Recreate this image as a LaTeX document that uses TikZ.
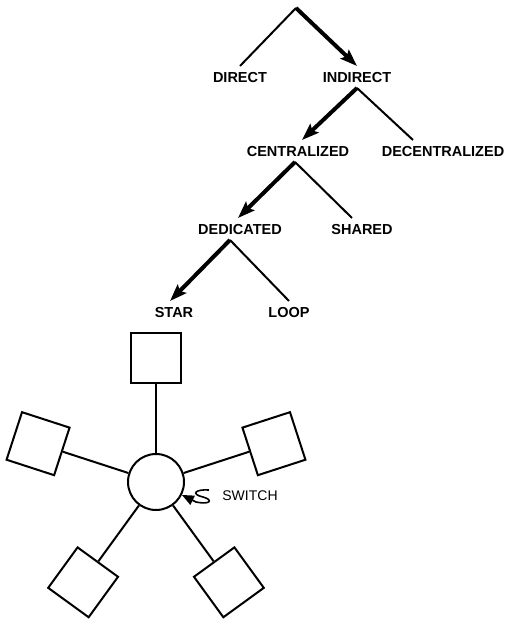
\documentclass[tikz,border=0pt]{standalone}
\usepackage{fontspec}
\setmainfont{Liberation Sans}
\usetikzlibrary{positioning,arrows.meta,calc}

\begin{document}
\begin{tikzpicture}[x=1pt,y=1pt,line width=2pt,
    >={Stealth[length=17pt,width=12pt,inset=3pt]},
    lbl/.style={font=\fontsize{14.5}{17}\selectfont\bfseries,inner xsep=2pt,
      inner ysep=4.5pt,text height=11pt,text depth=0pt},
    main/.style={->,line width=4pt},
    term/.style={draw,minimum size=50pt,inner sep=0pt},
    hubnode/.style={draw,circle,minimum size=56pt,inner sep=0pt}]
  \useasboundingbox (0,0) rectangle (505,623);

  % classification tree
  \coordinate (top) at (296,615);
  \node[lbl] (direct)   at (240,546) {DIRECT};
  \node[lbl] (indirect) at (357,546) {INDIRECT};
  \node[lbl] (central)  at (298,472) {CENTRALIZED};
  \node[lbl] (decentral) at (443,472) {DECENTRALIZED};
  \node[lbl] (dedic)    at (240,394) {DEDICATED};
  \node[lbl] (shared)   at (362,394) {SHARED};
  \node[lbl] (star)     at (174,311) {STAR};
  \node[lbl] (loop)     at (289,311) {LOOP};

  \draw (top) -- (direct.north);
  \draw[main] (top) -- (indirect.north);
  \draw[main] (indirect.south) -- ([xshift=4pt]central.north);
  \draw (indirect.south) -- ([xshift=-30pt]decentral.north);
  \draw[main] ([xshift=-3pt]central.south) -- ([xshift=-2pt]dedic.north);
  \draw ([xshift=-3pt]central.south) -- ([xshift=-10pt]shared.north);
  \draw[main] ([xshift=-10pt]dedic.south) -- ([xshift=-4pt]star.north);
  \draw ([xshift=-10pt]dedic.south) -- (loop.north);

  % star network
  \node[hubnode] (hub) at (156,141) {};
  \foreach \a/\n in {90/a,162/b,234/c,306/d,18/e} {
    \node[term,rotate=\a-90] (t\n) at ([shift={(\a:124)}]hub) {};
    \draw (hub) -- (t\n);
  }

  % switch label
  \node[lbl,font=\fontsize{14}{17}\selectfont] (switch) at (250,128) {SWITCH};
  \coordinate (sw) at (209,133);
  \draw[line width=1.6pt,-{Triangle[length=12pt,width=10pt]}] (sw)
    .. controls (196,134) and (190,129) .. (203,126)
    .. controls (214,123) and (210,118) .. (196,121) -- (hub);
\end{tikzpicture}
\end{document}
